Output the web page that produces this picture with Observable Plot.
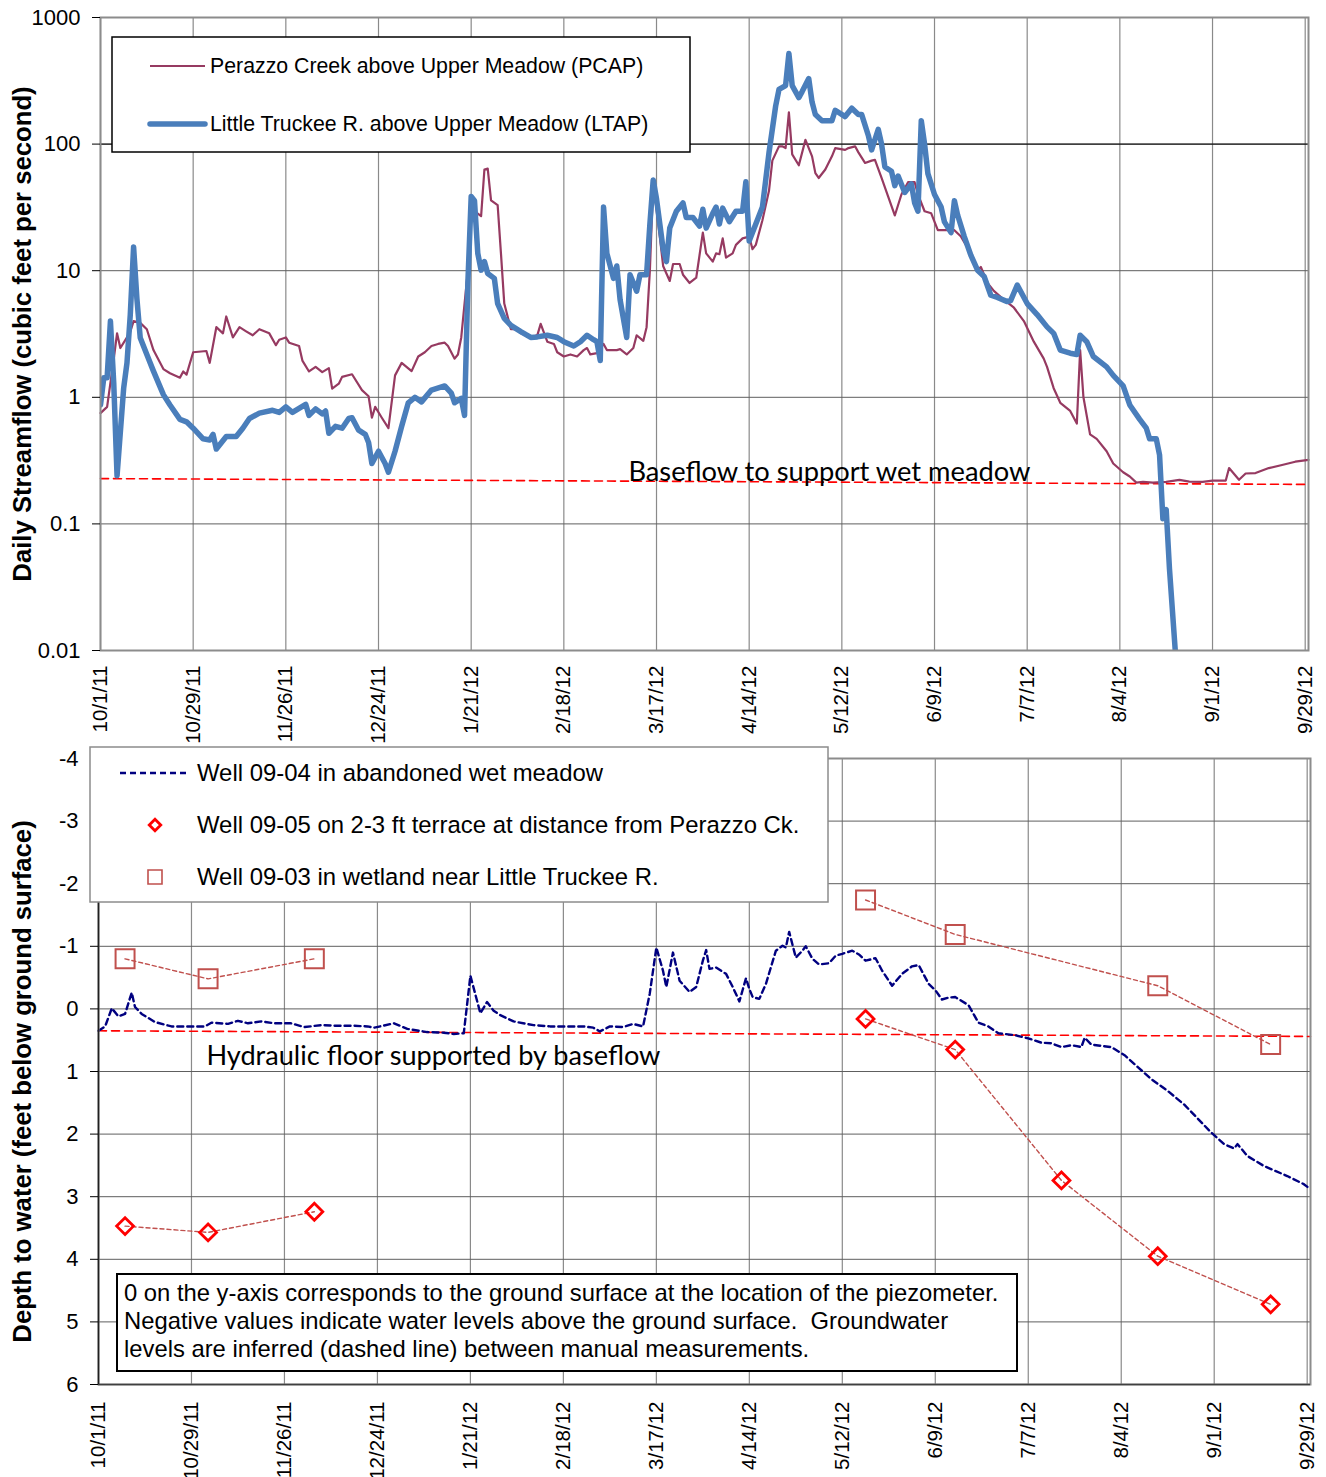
<!DOCTYPE html>
<html>
<head>
<meta charset="utf-8">
<script src="https://cdn.jsdelivr.net/npm/d3@7"></script>
<script src="https://cdn.jsdelivr.net/npm/@observablehq/plot@0.6"></script>
<style>
  body { margin: 0; background: #fff; }
  #wrap { position: relative; width: 1326px; height: 1477px; overflow: hidden; background: #fff; }
  #top, #bottom { position: absolute; left: 0; width: 1326px; }
  #top { top: 0; }
  #bottom { top: 740px; }
  svg { overflow: visible; }
</style>
</head>
<body>
<div id="wrap"><div id="top"></div><div id="bottom"></div></div>
<script>
// ---------------- DATA ----------------
// day offsets from 10/1/2011
const xTickLabels = ["10/1/11","10/29/11","11/26/11","12/24/11","1/21/12","2/18/12","3/17/12","4/14/12","5/12/12","6/9/12","7/7/12","8/4/12","9/1/12","9/29/12"];

const yTopTicks = [0.01, 0.1, 1, 10, 100, 1000];
const yTopTickLabels = ["0.01", "0.1", "1", "10", "100", "1000"];
const yBottomTicks = [-4, -3, -2, -1, 0, 1, 2, 3, 4, 5, 6];
const yBottomTickLabels = ["-4", "-3", "-2", "-1", "0", "1", "2", "3", "4", "5", "6"];

// Little Truckee R. above Upper Meadow (LTAP), cfs
const ltapDay = [
  0,1,2,3,4,5,7,8,9,10,
  11,12,14,16,19,21,24,26,28,31,
  33,34,35,38,41,43,45,48,52,54,
  56,58,62,63,65,67,68,69,71,73,
  75,76,78,80,81,82,84,86,87,89,
  91,93,95,97,100,104,106,107,109,110,
  111,112,113,114,115,116,117,119,120,122,
  124,127,130,132,135,138,140,143,145,147,
  149,150,151,152,153,155,156,157,159,160,
  162,163,165,166,167,168,170,171,172,174,
  176,177,179,181,182,183,185,186,187,188,
  190,192,194,195,196,198,200,202,204,205,
  207,208,209,211,212,214,215,216,218,221,
  222,225,227,229,230,232,233,235,236,237,
  239,240,241,243,245,246,247,248,249,250,
  252,254,255,257,258,259,261,263,265,267,
  269,271,274,275,277,280,283,286,288,290,
  293,295,296,298,300,304,306,309,311,314,
  316,317,319,320,321,322,323,325
];
const ltapCfs = [
  0.87,1.43,1.43,4.0,1.3,0.24,1.18,1.87,4.5,15.4,
  6.0,2.96,2.18,1.61,1.05,0.87,0.67,0.64,0.57,0.47,
  0.46,0.51,0.39,0.49,0.49,0.57,0.68,0.75,0.79,0.76,
  0.84,0.76,0.88,0.72,0.81,0.74,0.78,0.52,0.59,0.57,
  0.68,0.69,0.55,0.51,0.44,0.30,0.375,0.30,0.256,0.375,
  0.59,0.905,1.0,0.92,1.14,1.23,1.08,0.905,0.98,0.72,
  8,38.5,35.7,13.7,10.1,11.8,9.5,8.7,5.5,4.2,
  3.7,3.3,2.97,3.0,3.09,2.97,2.75,2.54,2.75,3.09,
  2.85,2.75,1.95,31.8,13.7,8.7,10.9,5.9,2.97,9.3,
  6.9,9.3,9.3,23.4,52,37,14.8,11.8,21.7,29.5,
  34.3,26.3,26.3,22.5,30.6,21.7,28.4,31.8,23.4,31.2,
  24.4,29.5,29.5,50.4,17.2,23.4,31.8,86,200,270,
  290,520,290,233,260,329,215,171,153,153,
  185,165,192,171,171,117,90,131,100,66,
  61,47,56,41.5,48.5,34.3,29.5,153,100,58.5,
  40,31.8,24.3,20,35.7,27.4,18.6,13.2,10.1,9.0,
  6.4,6.15,5.7,5.8,7.7,5.5,4.5,3.6,3.2,2.36,
  2.23,2.18,3.09,2.75,2.1,1.74,1.49,1.23,0.87,0.67,
  0.57,0.47,0.47,0.35,0.11,0.13,0.044,0.008
];

// Perazzo Creek above Upper Meadow (PCAP), cfs
const pcapDay = [
  0,2,3,4,5,6,8,9,10,12,
  14,16,19,21,24,25,26,28,32,33,
  35,37,38,40,42,44,46,48,51,53,
  54,56,57,60,61,63,65,67,69,70,
  72,73,76,79,81,82,83,85,87,89,
  91,94,96,98,100,102,104,105,107,108,
  109,110,111,112,113,115,116,117,118,120,
  121,122,124,126,127,130,132,133,135,137,
  138,140,142,144,146,147,148,150,152,153,
  156,157,159,161,162,164,165,166,167,169,
  170,172,173,175,176,178,180,182,183,185,
  186,187,188,189,191,192,194,196,197,198,
  200,202,203,205,206,207,208,209,211,213,
  215,216,217,219,221,222,225,226,228,229,
  231,233,234,236,238,240,242,244,246,247,
  249,251,253,255,258,260,263,265,266,268,
  270,273,276,279,282,285,286,288,290,293,
  295,296,297,299,301,304,306,309,311,313,
  315,318,322,326,329,333,336,340,341,344,
  346,349,353,357,361,365
];
const pcapCfs = [
  0.75,0.84,1.3,2.0,3.2,2.45,2.97,3.3,4.0,3.87,
  3.45,2.36,1.67,1.55,1.43,1.6,1.51,2.27,2.32,1.87,
  3.58,3.2,4.35,2.97,3.58,3.32,3.09,3.45,3.2,2.58,
  2.85,2.97,2.7,2.54,1.95,1.6,1.74,1.58,1.7,1.17,
  1.28,1.45,1.52,1.14,1.02,0.69,0.84,0.69,0.57,1.49,
  1.87,1.61,2.1,2.27,2.54,2.64,2.7,2.54,2.02,2.18,
  2.97,5.5,10,25,29.5,27,63,64,36,33,
  13.7,5.5,3.45,3.45,3.2,2.97,3.1,3.8,2.75,2.64,
  2.27,2.1,2.18,2.1,2.36,2.45,2.18,2.23,2.64,2.36,
  2.36,2.4,2.18,2.45,3.09,2.79,3.58,10.1,50,18.6,
  10.9,8.3,11.3,11.3,9.3,8.0,8.8,20,13.7,11.8,
  13.7,13.5,18,12.7,13.7,16,18,18.6,14.8,16,
  25,43,74,96,96,93,178,83,68,108,
  80,59,54,63,80,93,90,93,96,86,
  71,74,75,54,38.5,27.3,40,50,50,40,
  29.5,28.4,20.9,20.9,20.9,18.6,13.7,10.1,10.7,8.0,
  6.9,5.9,5.1,4.0,2.75,2.02,1.74,1.18,0.905,0.78,
  0.62,2.36,1.0,0.51,0.47,0.375,0.30,0.256,0.237,0.212,
  0.215,0.212,0.215,0.223,0.216,0.215,0.22,0.22,0.276,0.223,
  0.25,0.252,0.276,0.292,0.31,0.32
];

// baseflow reference line (cfs)
const baseflowDay = [0, 365];
const baseflowCfs = [0.228, 0.205];
const baseflowLabel = "Baseflow to support wet meadow";
const baseflowLabelDay = 159.5;
const baseflowLabelCfs = 0.22;

// Well 09-04 in abandoned wet meadow (ft below ground)
const well04Day = [
  0,2,4,6,8,10,11,13,17,22,
  27,32,34,39,42,45,49,53,58,62,
  67,72,77,81,83,89,93,99,104,107,
  110,112,114,115,117,119,121,125,131,136,
  141,146,149,151,154,158,161,164,166,168,
  170,171,173,175,178,180,182,183,184,186,
  189,191,193,195,196,197,199,201,204,206,
  207,208,210,212,213,215,217,220,222,224,
  227,229,231,234,236,239,242,245,247,250,
  252,254,256,258,262,265,268,271,276,280,
  284,287,290,293,296,297,299,305,309,313,
  317,322,327,331,335,339,342,343,346,351,
  358,363,365
];
const well04Depth = [
  0.35,0.28,-0.01,0.12,0.08,-0.26,-0.03,0.08,0.21,0.28,
  0.28,0.28,0.22,0.24,0.19,0.23,0.20,0.23,0.23,0.29,
  0.26,0.27,0.27,0.28,0.30,0.23,0.32,0.37,0.38,0.40,
  0.39,-0.53,-0.13,0.07,-0.11,0.03,0.10,0.20,0.26,0.28,
  0.28,0.28,0.30,0.36,0.28,0.29,0.24,0.28,-0.24,-0.98,
  -0.61,-0.35,-0.90,-0.45,-0.27,-0.35,-0.77,-0.94,-0.64,-0.66,
  -0.56,-0.35,-0.12,-0.49,-0.32,-0.19,-0.16,-0.40,-0.93,-1.01,
  -0.98,-1.23,-0.82,-0.93,-1.00,-0.80,-0.71,-0.73,-0.85,-0.88,
  -0.93,-0.87,-0.77,-0.81,-0.61,-0.37,-0.56,-0.68,-0.70,-0.40,
  -0.30,-0.15,-0.18,-0.19,-0.06,0.22,0.28,0.39,0.42,0.47,
  0.54,0.55,0.61,0.58,0.61,0.46,0.57,0.61,0.74,0.93,
  1.12,1.31,1.53,1.75,1.97,2.16,2.23,2.16,2.35,2.51,
  2.67,2.80,2.88
];

// Well 09-05 on 2-3 ft terrace (manual measurements)
const well05Day = [8, 33, 65, 231, 258, 290, 319, 353];
const well05Depth = [3.47, 3.57, 3.24, 0.16, 0.65, 2.74, 3.95, 4.72];
const well05Campaign = ["2011", "2011", "2011", "2012", "2012", "2012", "2012", "2012"];

// Well 09-03 in wetland near Little Truckee R. (manual measurements)
const well03Day = [8, 33, 65, 231, 258, 319, 353];
const well03Depth = [-0.80, -0.48, -0.80, -1.74, -1.19, -0.37, 0.57];
const well03Campaign = ["2011", "2011", "2011", "2012", "2012", "2012", "2012"];

// hydraulic floor reference line (ft)
const floorDay = [0, 365];
const floorDepth = [0.35, 0.44];
const floorLabel = "Hydraulic floor supported by baseflow";
const floorLabelDay = 32.5;
const floorLabelDepth = 0.89;

const noteLines = [
  "0 on the y-axis corresponds to the ground surface at the location of the piezometer.",
  "Negative values indicate water levels above the ground surface.  Groundwater",
  "levels are inferred (dashed line) between manual measurements."
];

// ---------------- BUILD ----------------
const FONT = "'Liberation Sans', Arial, sans-serif";
const CAL = "Lato, 'Open Sans', sans-serif";
const START = Date.UTC(2011, 9, 1);
const DAY = 864e5;
const toDate = d => new Date(START + d * DAY);
const parseTick = s => { const [m, d, y] = s.split("/").map(Number); return new Date(Date.UTC(2000 + y, m - 1, d)); };
const tickDates = xTickLabels.map(parseTick);
const tickLabelMap = new Map(tickDates.map((d, i) => [+d, xTickLabels[i]]));
const xDomain = [toDate(0), toDate(365)];

const ltap = ltapDay.map((d, i) => ({date: toDate(d), v: ltapCfs[i]}));
const pcap = pcapDay.map((d, i) => ({date: toDate(d), v: pcapCfs[i]}));
const baseflow = baseflowDay.map((d, i) => ({date: toDate(d), v: baseflowCfs[i]}));
const well04 = well04Day.map((d, i) => ({date: toDate(d), v: well04Depth[i]}));
const well05 = well05Day.map((d, i) => ({date: toDate(d), v: well05Depth[i], g: well05Campaign[i]}));
const well03 = well03Day.map((d, i) => ({date: toDate(d), v: well03Depth[i], g: well03Campaign[i]}));
const floor = floorDay.map((d, i) => ({date: toDate(d), v: floorDepth[i]}));

const topPlot = Plot.plot({
  width: 1326, height: 760,
  marginLeft: 100, marginRight: 18, marginTop: 17, marginBottom: 110,
  style: {fontFamily: FONT, fontSize: "21px", color: "#000", background: "transparent", overflow: "visible"},
  x: {type: "utc", domain: xDomain},
  y: {type: "log", domain: [0.01, 1000]},
  marks: [
    Plot.gridX(tickDates, {stroke: "#8a8a8a", strokeOpacity: 1, strokeWidth: 1.2}),
    Plot.gridY(yTopTicks, {stroke: "#5e5e5e", strokeOpacity: 1, strokeWidth: 1}),
    Plot.ruleY([100], {stroke: "#000", strokeWidth: 1}),
    Plot.line(baseflow, {x: "date", y: "v", stroke: "#ff0000", strokeWidth: 1.6, strokeDasharray: "8,5"}),
    Plot.line(pcap, {x: "date", y: "v", stroke: "#963a61", strokeWidth: 2.2, strokeLinejoin: "round"}),
    Plot.line(ltap, {x: "date", y: "v", stroke: "#4a7ebb", strokeWidth: 5.5, strokeLinejoin: "round", clip: true}),
    Plot.text([{date: toDate(baseflowLabelDay), v: baseflowLabelCfs, t: baseflowLabel}],
      {x: "date", y: "v", text: "t", textAnchor: "start", lineAnchor: "bottom", fontFamily: CAL, fontSize: 26, fill: "#000"}),
    Plot.frame({stroke: "#8c8c8c", strokeWidth: 2}),
    Plot.axisY(yTopTicks, {tickFormat: d => yTopTickLabels[yTopTicks.indexOf(d)], tickSize: 8, tickPadding: 12, fontSize: 22, label: null}),
    Plot.axisX(tickDates, {tickFormat: d => tickLabelMap.get(+d), tickRotate: -90, tickSize: 0, tickPadding: 15, fontSize: 20.5, label: null}),
    Plot.text(["Daily Streamflow (cubic feet per second)"],
      {frameAnchor: "left", dx: -78, rotate: -90, textAnchor: "middle", fontWeight: "bold", fontSize: 25.7, fill: "#000"})
  ]
});

const bottomPlot = Plot.plot({
  width: 1326, height: 737,
  marginLeft: 98, marginRight: 16, marginTop: 18, marginBottom: 93,
  style: {fontFamily: FONT, fontSize: "21px", color: "#000", background: "transparent", overflow: "visible"},
  x: {type: "utc", domain: xDomain},
  y: {domain: [-4, 6], reverse: true},
  marks: [
    Plot.gridX(tickDates, {stroke: "#8a8a8a", strokeOpacity: 1, strokeWidth: 1.2}),
    Plot.gridY(yBottomTicks, {stroke: "#5e5e5e", strokeOpacity: 1, strokeWidth: 1}),
    Plot.line(floor, {x: "date", y: "v", stroke: "#ff0000", strokeWidth: 1.6, strokeDasharray: "8,5"}),
    Plot.line(well04, {x: "date", y: "v", stroke: "#000080", strokeWidth: 2.4, strokeDasharray: "6,4"}),
    Plot.line(well03, {x: "date", y: "v", z: "g", stroke: "#c0504d", strokeWidth: 1.4, strokeDasharray: "4,3"}),
    Plot.line(well05, {x: "date", y: "v", z: "g", stroke: "#c0504d", strokeWidth: 1.4, strokeDasharray: "4,3"}),
    Plot.dot(well03, {x: "date", y: "v", symbol: "square", r: 10.7, stroke: "#c0504d", strokeWidth: 2, fill: "none"}),
    Plot.dot(well05, {x: "date", y: "v", symbol: "diamond2", r: 7.6, stroke: "#ff0000", strokeWidth: 2.8, fill: "none"}),
    Plot.text([{date: toDate(floorLabelDay), v: floorLabelDepth, t: floorLabel}],
      {x: "date", y: "v", text: "t", textAnchor: "start", lineAnchor: "bottom", fontFamily: CAL, fontSize: 26, fill: "#000"}),
    Plot.frame({stroke: "#8c8c8c", strokeWidth: 2}),
    Plot.ruleY([6], {stroke: "#404040", strokeWidth: 1.5}),
    Plot.ruleX([toDate(0)], {stroke: "#202020", strokeWidth: 1.5}),
    Plot.axisY(yBottomTicks, {tickFormat: d => yBottomTickLabels[yBottomTicks.indexOf(d)], tickSize: 8, tickPadding: 12, fontSize: 22, label: null}),
    Plot.axisX(tickDates, {tickFormat: d => tickLabelMap.get(+d), tickRotate: -90, tickSize: 0, tickPadding: 17, fontSize: 20.5, label: null}),
    Plot.text(["Depth to water (feet below ground surface)"],
      {frameAnchor: "left", dx: -76, dy: 10, rotate: -90, textAnchor: "middle", fontWeight: "bold", fontSize: 25.7, fill: "#000"})
  ]
});

document.getElementById("top").appendChild(topPlot);
document.getElementById("bottom").appendChild(bottomPlot);

// stretch Calibri-like annotations to reference widths
d3.select(topPlot).selectAll("text").filter(function() { return this.textContent === baseflowLabel; })
  .attr("textLength", 402).attr("lengthAdjust", "spacingAndGlyphs");
d3.select(bottomPlot).selectAll("text").filter(function() { return this.textContent === floorLabel; })
  .attr("textLength", 454).attr("lengthAdjust", "spacingAndGlyphs");

// ---- top legend ----
const lt = d3.select(topPlot).append("g").attr("font-family", FONT).attr("font-size", 21.3)
  .attr("fill", "#000").attr("text-anchor", "start");
lt.append("rect").attr("x", 112).attr("y", 37).attr("width", 578).attr("height", 115)
  .attr("fill", "#fff").attr("stroke", "#000").attr("stroke-width", 1.5);
lt.append("line").attr("x1", 150).attr("x2", 205).attr("y1", 66).attr("y2", 66)
  .attr("stroke", "#963a61").attr("stroke-width", 2.2);
lt.append("text").attr("x", 210).attr("y", 73).text("Perazzo Creek above Upper Meadow (PCAP)");
lt.append("line").attr("x1", 150).attr("x2", 205).attr("y1", 124).attr("y2", 124)
  .attr("stroke", "#4a7ebb").attr("stroke-width", 5.5).attr("stroke-linecap", "round");
lt.append("text").attr("x", 210).attr("y", 131).text("Little Truckee R. above Upper Meadow (LTAP)");

// ---- bottom legend ----
const lb = d3.select(bottomPlot).append("g").attr("font-family", FONT).attr("font-size", 23.9)
  .attr("fill", "#000").attr("text-anchor", "start");
lb.append("rect").attr("x", 90).attr("y", 7).attr("width", 738).attr("height", 155)
  .attr("fill", "#fff").attr("stroke", "#8c8c8c").attr("stroke-width", 1.5);
lb.append("line").attr("x1", 120).attr("x2", 190).attr("y1", 33).attr("y2", 33)
  .attr("stroke", "#000080").attr("stroke-width", 2.4).attr("stroke-dasharray", "6,4");
lb.append("text").attr("x", 197).attr("y", 41).text("Well 09-04 in abandoned wet meadow");
lb.append("path").attr("transform", "translate(155,85)")
  .attr("d", d3.symbol(d3.symbolDiamond2, 2 * 6.5 * 6.5)())
  .attr("fill", "none").attr("stroke", "#ff0000").attr("stroke-width", 2.8);
lb.append("text").attr("x", 197).attr("y", 93).text("Well 09-05 on 2-3 ft terrace at distance from Perazzo Ck.");
lb.append("path").attr("transform", "translate(155,137)")
  .attr("d", d3.symbol(d3.symbolSquare, 14 * 14)())
  .attr("fill", "none").attr("stroke", "#c0504d").attr("stroke-width", 1.6);
lb.append("text").attr("x", 197).attr("y", 145).text("Well 09-03 in wetland near Little Truckee R.");

// ---- note box ----
const nb = d3.select(bottomPlot).append("g").attr("font-family", FONT).attr("font-size", 23.8)
  .attr("fill", "#000").attr("text-anchor", "start");
nb.append("rect").attr("x", 117).attr("y", 534).attr("width", 900).attr("height", 97)
  .attr("fill", "#fff").attr("stroke", "#000").attr("stroke-width", 2);
noteLines.forEach((t, i) => nb.append("text").attr("x", 124).attr("y", 561 + i * 28)
  .attr("xml:space", "preserve").style("white-space", "pre").text(t));
</script>
</body>
</html>
